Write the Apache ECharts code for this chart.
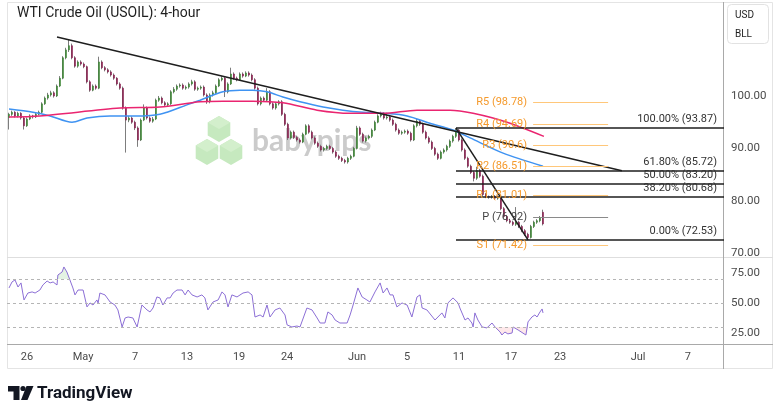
<!DOCTYPE html>
<html>
<head>
<meta charset="utf-8">
<title>WTI Crude Oil (USOIL): 4-hour</title>
<script src="https://cdn.jsdelivr.net/npm/echarts@6/dist/echarts.min.js"></script>
<style>
  html, body { margin: 0; padding: 0; background: #fff; }
  #chart { width: 780px; height: 417px; }
</style>
</head>
<body>
<div id="chart"></div>
<script>
// 4-hour candles, one row per bar: [open, close, low, high]
var candles = [
  [95.9,96.5,93.6,96.8],[96.5,96.9,96.2,97.2],[96.9,96.2,95.9,97.1],[96.2,96.7,95.9,97.0],[96.7,95.8,95.5,96.9],
  [95.8,94.3,93.6,96.0],[94.3,95.6,94.1,95.9],[95.6,96.2,95.4,96.5],[96.2,96.0,95.7,96.4],[96.0,96.5,95.8,96.8],
  [96.5,96.9,96.3,97.2],[96.9,98.5,96.7,98.8],[98.5,99.6,98.3,99.9],[99.6,100.2,99.3,100.6],[100.2,100.6,99.9,101.0],
  [100.6,100.0,99.7,100.9],[100.0,101.9,99.8,102.2],[101.9,103.4,101.7,103.8],[103.4,107.3,103.2,107.6],[107.3,108.8,107.0,109.2],
  [108.8,109.6,108.4,110.7],[109.6,107.3,107.0,110.0],[107.3,105.7,105.4,107.6],[105.7,106.5,105.4,106.8],[106.5,106.1,105.8,106.8],
  [106.1,105.6,105.3,106.4],[105.6,102.7,102.4,105.8],[102.7,101.1,100.8,103.0],[101.1,101.9,100.9,102.2],[101.9,101.5,101.2,102.2],
  [101.5,106.5,101.3,107.5],[106.5,105.4,105.1,106.8],[105.4,105.0,104.7,105.7],[105.0,104.6,104.3,105.3],[104.6,104.0,103.7,104.9],
  [104.0,103.4,103.1,104.3],[103.4,102.3,102.0,103.6],[102.3,101.5,101.2,102.6],[101.5,97.7,97.4,101.8],[97.7,95.4,89.2,98.0],
  [95.4,95.8,95.0,96.2],[95.8,95.0,94.7,96.1],[95.0,93.9,93.5,95.3],[93.9,91.6,90.3,94.2],[91.6,95.4,91.4,95.7],
  [95.4,97.7,95.2,98.4],[97.7,95.8,95.5,98.0],[95.8,95.2,94.9,96.1],[95.2,95.6,94.9,96.0],[95.6,99.2,95.4,99.5],
  [99.2,99.6,98.9,100.0],[99.6,98.7,98.4,99.9],[98.7,98.3,98.0,99.0],[98.3,98.5,98.0,98.8],[98.5,100.8,98.3,101.1],
  [100.8,101.3,100.5,101.7],[101.3,101.9,101.0,102.2],[101.9,102.1,101.6,102.4],[102.1,101.5,101.2,102.4],[101.5,101.7,101.2,102.0],
  [101.7,102.3,101.4,102.6],[102.3,102.7,102.0,103.1],[102.7,101.3,101.0,103.0],[101.3,101.5,101.0,101.8],[101.5,101.7,101.2,102.0],
  [101.7,100.2,99.9,102.0],[100.2,98.9,98.5,100.5],[98.9,100.2,98.6,100.5],[100.2,100.6,99.9,101.0],[100.6,101.9,100.4,102.2],
  [101.9,103.1,101.7,103.4],[103.1,103.4,102.8,103.8],[103.4,100.8,99.8,103.7],[100.8,102.3,100.5,102.6],[102.3,104.2,102.1,105.4],
  [104.2,103.4,103.1,104.5],[103.4,103.1,102.8,103.7],[103.1,104.2,102.9,104.5],[104.2,103.8,103.5,104.5],[103.8,104.4,103.6,104.7],
  [104.4,104.0,103.7,104.7],[104.0,103.1,102.8,104.3],[103.1,101.5,101.2,103.4],[101.5,98.5,98.2,101.8],[98.5,99.6,98.2,99.9],
  [99.6,99.2,98.9,99.9],[99.2,100.8,98.9,101.5],[100.8,98.5,98.2,101.1],[98.5,97.7,97.4,98.8],[97.7,98.5,97.4,98.8],
  [98.5,98.9,98.2,99.2],[98.9,96.5,96.2,99.2],[96.5,94.6,94.3,96.8],[94.6,92.0,91.6,94.9],[92.0,93.1,91.7,93.4],
  [93.1,92.1,91.8,93.4],[92.1,91.6,91.3,92.4],[91.6,91.2,90.9,91.9],[91.2,92.7,91.0,93.0],[92.7,94.3,92.5,94.6],
  [94.3,93.1,92.8,94.6],[93.1,92.0,91.7,93.4],[92.0,91.0,90.7,92.3],[91.0,90.4,90.1,91.3],[90.4,89.7,89.4,90.7],
  [89.7,90.0,89.4,90.3],[90.0,90.4,89.7,90.7],[90.4,90.0,89.7,90.7],[90.0,89.3,89.0,90.3],[89.3,88.5,88.2,89.6],
  [88.5,88.1,87.8,88.8],[88.1,87.7,87.4,88.4],[87.7,87.4,87.1,88.0],[87.4,88.1,87.1,88.4],[88.1,88.5,87.8,88.8],
  [88.5,90.0,88.3,90.3],[90.0,93.9,89.8,94.3],[93.9,92.7,92.4,94.2],[92.7,91.4,91.1,93.0],[91.4,92.0,91.1,92.3],
  [92.0,92.3,91.7,92.6],[92.3,93.5,92.0,93.8],[93.5,95.0,93.3,95.3],[95.0,96.2,94.8,96.5],[96.2,96.5,95.9,97.0],
  [96.5,95.8,95.5,96.9],[95.8,96.0,95.5,96.8],[96.0,95.4,95.1,96.3],[95.4,94.6,94.3,95.7],[94.6,93.5,93.2,94.9],
  [93.5,92.9,92.6,93.8],[92.9,93.1,92.6,93.4],[93.1,93.3,92.8,93.6],[93.3,92.9,92.6,93.6],[92.9,91.6,91.3,93.2],
  [91.6,94.3,91.4,94.6],[94.3,95.2,94.0,95.6],[95.2,94.6,94.3,95.5],[94.6,93.1,92.8,94.9],[93.1,92.0,91.7,93.4],
  [92.0,91.2,90.9,92.3],[91.2,90.0,89.7,91.5],[90.0,88.9,88.6,90.3],[88.9,88.1,87.8,89.2],[88.1,89.3,87.9,89.6],
  [89.3,89.7,89.0,90.0],[89.7,90.4,89.4,90.7],[90.4,91.4,90.1,91.7],[91.4,92.3,91.1,92.6],[92.3,93.5,92.0,93.87],
  [93.5,91.6,91.3,93.7],[91.6,89.7,89.4,91.9],[89.7,88.1,87.8,90.0],[88.1,86.6,86.3,88.4],[86.6,85.4,85.1,86.9],
  [85.4,84.3,83.7,85.7],[84.3,85.8,84.0,86.5],[85.8,84.7,84.4,86.1],[84.7,81.2,80.9,85.0],[81.2,80.8,80.5,81.5],
  [80.8,80.7,80.4,81.0],[80.7,80.8,80.4,81.1],[80.8,80.5,80.2,81.1],[80.5,80.7,80.2,81.0],[80.7,78.5,78.2,81.0],
  [78.5,77.0,76.7,78.8],[77.0,76.2,75.9,77.3],[76.2,75.9,75.6,76.5],[75.9,75.5,75.2,76.2],[75.5,75.9,75.2,78.8],
  [75.9,75.1,74.8,76.2],[75.1,74.3,74.0,75.4],[74.3,73.6,73.3,74.6],[73.6,73.0,72.53,73.9],[73.0,75.1,72.8,75.4],
  [75.1,75.9,74.8,76.2],[75.9,76.2,75.6,76.5],[76.2,76.8,75.9,77.1],[77.8,75.59,75.3,78.3]
];

// moving averages: [bar, price]
var maBlue = [[0,97.5],[8,96.9],[13.7,96.2],[21,95.0],[26,95.8],[33.7,96.2],[44.7,96.2],[50.3,96.5],[52.7,96.9],
  [59.3,98.3],[63.7,99.2],[71.3,100.8],[77,101.1],[81.3,101.1],[86,100.8],[91.3,99.8],[97,98.9],[104.7,97.9],
  [111.3,97.3],[118,96.9],[124.7,96.7],[132.7,96.2],[140.3,94.8],[148,93.5],[153.7,92.0],[164.7,89.1],[178,86.6]];
var maPink = [[0,96.0],[10.3,96.2],[37,97.7],[50.3,97.9],[63.7,98.9],[71.3,99.0],[81.3,99.0],[91.3,98.7],
  [102.7,97.3],[113.7,96.7],[124.7,96.7],[136,97.3],[147,97.3],[154.7,96.7],[166,95.0],[178.3,92.3]];

// RSI(14): [bar, value]
var rsi = [[0,62.5],[1,67.5],[2,69.2],[3,63.3],[4,66.7],[5,52.5],[6.3,58.3],[7.7,59.2],[8.7,58.3],[10.3,60.8],
  [11.3,65.0],[12.7,68.3],[13.7,66.7],[14.7,67.5],[16,65.0],[16.3,73.3],[17.7,75.8],[18.3,80.0],[19.3,75.8],
  [20.3,69.2],[21.3,62.5],[22,56.7],[23,60.8],[24.7,60.8],[26,46.7],[27,50.0],[28,48.3],[29.3,52.5],[29.7,50.0],
  [30.3,58.3],[32,56.7],[33.7,50.8],[35.3,48.3],[36.3,44.2],[37.7,30.0],[38.7,37.5],[39.7,38.3],[41.3,37.5],
  [42.7,30.0],[44.3,48.3],[46,44.2],[47,42.5],[48,45.8],[49.3,55.0],[50.3,54.2],[51.3,48.3],[52.7,54.2],[53.7,54.2],
  [54.7,58.3],[56,60.8],[57.7,60.8],[58.7,56.7],[59.7,60.8],[61,56.7],[62.7,55.0],[64.3,56.7],[65.3,54.2],
  [66.3,44.2],[68,50.8],[69.7,52.5],[71,59.2],[72,56.7],[73,46.7],[74.3,56.7],[76,55.0],[78,58.3],[79.7,59.2],
  [81,56.7],[82,38.3],[83.7,40.0],[84.7,38.3],[86,48.3],[87,38.3],[88.7,44.2],[90.3,45.8],[92,40.0],[92.7,31.7],
  [94.3,30.0],[96,30.8],[97,30.0],[99.3,45.8],[101,44.2],[102.7,37.5],[103.7,33.3],[105.3,33.3],[106.3,42.5],
  [107.7,40.0],[108.7,35.8],[110.3,33.3],[112.7,33.3],[113.7,40.0],[114.7,48.3],[116.3,62.5],[117.7,55.0],
  [119.3,52.5],[120.3,50.8],[122,59.2],[123.7,66.7],[124.7,58.3],[126,62.5],[127,56.7],[128,56.7],[129.3,46.7],
  [131,50.0],[132.7,48.3],[134.3,38.3],[136,55.0],[137,56.7],[137.7,45.8],[139.3,44.2],[142,35.8],[144.3,41.7],
  [145.3,37.5],[146.3,50.0],[148,54.2],[149.7,50.0],[150.3,45.8],[152,35.8],[153,37.5],[154.3,33.3],[154.7,30.0],
  [155.3,41.7],[156.3,35.8],[157.7,30.0],[159.3,29.2],[161,33.3],[162,30.0],[163.7,25.8],[164.3,23.3],[165.3,25.8],
  [166.3,24.2],[167.7,25.0],[168,30.0],[169.7,27.5],[172.3,23.3],[173,34.2],[174.3,38.3],[175.3,40.0],[176,38.3],
  [177,42.5],[177.7,45.0],[178,41.7]];

// drawings
var trendLong = [[16,111.26],[204.3,85.72]];
var trendSteep = [[149,93.87],[173,72.53]];
var fibNames = ['100.00%','61.80%','50.00%','38.20%','0.00%'];
var fibValues = [93.87,85.72,83.20,80.68,72.53];
var fibStart = 149;
var pivotNames = ['R5','R4','R3','R2','R1','P','S1'];
var pivotValues = [98.78,94.69,90.6,86.51,81.01,76.92,71.42];
var pivotSpan = [174.7,199.7];

// axes
var priceTicks = [70,80,90,100];
var rsiTicks = [25,50,75];
var rsiLevels = [70,50,30];
var dateTickBars = [6,24.7,42,59.3,76.7,92.7,116,132.7,150,167.3,183.7,209.7,226.3];
var dateTickLabels = ['26','May','7','13','19','24','Jun','5','11','17','23','Jul','7'];

var xMin = -0.667, xMax = 238.333;
var font = 'Roboto, "Liberation Sans", sans-serif';
var lastClose = candles[candles.length - 1][1];

var wickData = candles.map(function (c, i) { return [i, c[0], c[1], c[2], c[3]]; });
var bodyData = candles.map(function (c, i) {
  return [i, c[0], c[1], Math.min(c[0], c[1]), Math.max(c[0], c[1])];
});

var fibLines = fibValues.map(function (v, k) {
  return [
    { coord: [fibStart, v], label: { formatter: fibNames[k] + ' (' + v.toFixed(2) + ')' } },
    { coord: [xMax, v] }
  ];
});
var pivotLines = pivotValues.map(function (v, k) {
  var isP = pivotNames[k] === 'P';
  return [
    {
      coord: [pivotSpan[0], v],
      lineStyle: { color: isP ? '#8a8a8a' : '#ffc77a', width: 1, type: 'solid' },
      label: {
        show: true, position: 'start', distance: 6,
        color: isP ? '#444' : '#f59a2c', fontSize: 11, fontFamily: font,
        formatter: pivotNames[k] + ' (' + v + ')'
      }
    },
    { coord: [pivotSpan[1], v] }
  ];
});

var myChart = echarts.init(document.getElementById('chart'));
myChart.setOption({
  animation: false,
  backgroundColor: '#fff',
  grid: [
    { left: 7, right: 56, top: 2, height: 255 },
    { left: 7, right: 56, top: 257, height: 87 }
  ],
  xAxis: [
    { type: 'value', gridIndex: 0, min: xMin, max: xMax,
      axisLine: { show: false }, axisTick: { show: false }, axisLabel: { show: false }, splitLine: { show: false } },
    { type: 'value', gridIndex: 1, min: xMin, max: xMax,
      axisLine: { show: false }, axisTick: { show: false }, splitLine: { show: false },
      axisLabel: {
        customValues: dateTickBars, margin: 8, color: '#4a4a4a', fontSize: 11, fontFamily: font,
        formatter: function (v) {
          for (var k = 0; k < dateTickBars.length; k++) {
            if (Math.abs(dateTickBars[k] - v) < 0.01) return dateTickLabels[k];
          }
          return '';
        }
      }
    }
  ],
  yAxis: [
    { type: 'value', gridIndex: 0, position: 'right', min: 69.27, max: 117.94,
      axisLine: { show: false }, axisTick: { show: false }, splitLine: { show: false },
      axisLabel: { customValues: priceTicks, margin: 7, color: '#4a4a4a', fontSize: 11.5, fontFamily: font,
        formatter: function (v) { return v.toFixed(2); } } },
    { type: 'value', gridIndex: 1, position: 'right', min: 15.8, max: 88.3,
      axisLine: { show: false }, axisTick: { show: false }, splitLine: { show: false },
      axisLabel: { customValues: rsiTicks, margin: 7, color: '#4a4a4a', fontSize: 11.5, fontFamily: font,
        formatter: function (v) { return v.toFixed(2); } } }
  ],
  graphic: [
    // frame and separators
    { type: 'rect', z: 1, shape: { x: 7.5, y: 2.5, width: 765, height: 366 },
      style: { fill: 'none', stroke: '#e4e4e4', lineWidth: 1 } },
    { type: 'line', z: 1, shape: { x1: 7, y1: 257.5, x2: 773, y2: 257.5 }, style: { stroke: '#dedede', lineWidth: 1 } },
    { type: 'line', z: 1, shape: { x1: 7, y1: 344.5, x2: 773, y2: 344.5 }, style: { stroke: '#a9a9a9', lineWidth: 1 } },
    { type: 'line', z: 1, shape: { x1: 723.5, y1: 2, x2: 723.5, y2: 369 }, style: { stroke: '#a9a9a9', lineWidth: 1 } },
    // title
    { type: 'text', z: 50, x: 17, y: 13,
      style: { text: 'WTI Crude Oil (USOIL): 4-hour', fill: '#1e1e1e', font: '14px ' + font, verticalAlign: 'middle' } },
    // currency / unit box
    { type: 'rect', z: 50, shape: { x: 727.5, y: 4.5, width: 41, height: 39, r: 4 },
      style: { fill: '#fff', stroke: '#e2e2e2', lineWidth: 1 } },
    { type: 'text', z: 51, x: 735, y: 15, style: { text: 'USD', fill: '#1e1e1e', font: '10px ' + font, verticalAlign: 'middle' } },
    { type: 'text', z: 51, x: 735, y: 34, style: { text: 'BLL', fill: '#1e1e1e', font: '10px ' + font, verticalAlign: 'middle' } },
    // babypips watermark
    { type: 'polygon', z: 0, shape: { points: [[219,116],[230.3,122.5],[230.3,135.5],[219,142],[207.7,135.5],[207.7,122.5]] },
      style: { fill: '#c6e9bf' } },
    { type: 'polygon', z: 0, shape: { points: [[207,139],[218.3,145.5],[218.3,158.5],[207,165],[195.7,158.5],[195.7,145.5]] },
      style: { fill: '#c6e9bf' } },
    { type: 'polygon', z: 0, shape: { points: [[231,139],[242.3,145.5],[242.3,158.5],[231,165],[219.7,158.5],[219.7,145.5]] },
      style: { fill: '#c6e9bf' } },
    { type: 'polygon', z: 0, shape: { points: [[219,116],[230.3,122.5],[219,129],[207.7,122.5]] }, style: { fill: '#d3efcc' } },
    { type: 'polygon', z: 0, shape: { points: [[207,139],[218.3,145.5],[207,152],[195.7,145.5]] }, style: { fill: '#d3efcc' } },
    { type: 'polygon', z: 0, shape: { points: [[231,139],[242.3,145.5],[231,152],[219.7,145.5]] }, style: { fill: '#d3efcc' } },
    { type: 'text', z: 0, x: 252, y: 141,
      style: { text: 'babypips', fill: 'rgba(185,185,185,0.75)', font: 'bold 30px Lato, ' + font, verticalAlign: 'middle' } },
    // TradingView logo
    { type: 'polygon', z: 50, shape: { points: [[8,386],[19.5,386],[19.5,400],[13.5,400],[13.5,391.5],[8,391.5]] },
      style: { fill: '#131722' } },
    { type: 'circle', z: 50, shape: { cx: 23, cy: 388.5, r: 2.6 }, style: { fill: '#131722' } },
    { type: 'polygon', z: 50, shape: { points: [[26.5,386],[33.5,386],[27.5,400],[21,400]] }, style: { fill: '#131722' } },
    { type: 'text', z: 50, x: 37, y: 394,
      style: { text: 'TradingView', fill: '#131722', font: 'bold 17px ' + font, verticalAlign: 'middle' } }
  ],
  series: [
    {
      name: 'wicks', type: 'candlestick', xAxisIndex: 0, yAxisIndex: 0,
      data: wickData, encode: { x: 0, y: [1, 2, 3, 4] }, barWidth: 1,
      itemStyle: { color: '#7d7d7d', color0: '#7d7d7d', borderColor: '#7d7d7d', borderColor0: '#7d7d7d', borderWidth: 1 }
    },
    {
      name: 'bodies', type: 'candlestick', xAxisIndex: 0, yAxisIndex: 0,
      data: bodyData, encode: { x: 0, y: [1, 2, 3, 4] }, barWidth: 2.4,
      itemStyle: { color: '#3f8738', color0: '#8a2250', borderColor: '#3f8738', borderColor0: '#8a2250', borderWidth: 0.6 },
      markLine: {
        silent: true, symbol: ['none', 'none'],
        lineStyle: { color: '#1e1e1e', width: 1.5, type: 'solid' },
        label: { show: true, position: 'insideEndTop', distance: [7, 3], color: '#333', fontSize: 11, fontFamily: font },
        data: fibLines.concat(pivotLines).concat([
          [
            { coord: [xMin, lastClose], lineStyle: { opacity: 0 },
              label: { show: true, position: 'end', distance: 3, formatter: lastClose.toFixed(2),
                backgroundColor: '#f2276f', color: '#fff', fontSize: 12, padding: [2, 4, 1, 4], fontFamily: font } },
            { coord: [xMax, lastClose] }
          ]
        ])
      }
    },
    {
      name: 'MA blue', type: 'line', xAxisIndex: 0, yAxisIndex: 0, data: maBlue, smooth: 0.3,
      showSymbol: false, lineStyle: { color: '#3f93f2', width: 1.5 }
    },
    {
      name: 'MA pink', type: 'line', xAxisIndex: 0, yAxisIndex: 0, data: maPink, smooth: 0.3,
      showSymbol: false, lineStyle: { color: '#ea2570', width: 1.5 }
    },
    {
      name: 'trend long', type: 'line', xAxisIndex: 0, yAxisIndex: 0, data: trendLong,
      showSymbol: false, lineStyle: { color: '#1e1e1e', width: 1.5 }
    },
    {
      name: 'trend steep', type: 'line', xAxisIndex: 0, yAxisIndex: 0, data: trendSteep,
      showSymbol: false, lineStyle: { color: '#1e1e1e', width: 1.5 }
    },
    {
      name: 'RSI over', type: 'line', xAxisIndex: 1, yAxisIndex: 1,
      data: rsi.map(function (p) { return [p[0], Math.max(p[1], rsiLevels[0])]; }),
      showSymbol: false, lineStyle: { width: 0 }, areaStyle: { origin: rsiLevels[0], color: 'rgba(76,175,80,0.22)' }
    },
    {
      name: 'RSI under', type: 'line', xAxisIndex: 1, yAxisIndex: 1,
      data: rsi.map(function (p) { return [p[0], Math.min(p[1], rsiLevels[2])]; }),
      showSymbol: false, lineStyle: { width: 0 }, areaStyle: { origin: rsiLevels[2], color: 'rgba(242,54,69,0.16)' }
    },
    {
      name: 'RSI', type: 'line', xAxisIndex: 1, yAxisIndex: 1, data: rsi,
      showSymbol: false, lineStyle: { color: '#8c6fd6', width: 1 },
      markLine: {
        silent: true, symbol: ['none', 'none'], label: { show: false },
        lineStyle: { color: '#b5b5b5', width: 1, type: [3, 3] },
        data: rsiLevels.map(function (v) { return { yAxis: v }; })
      }
    }
  ]
});
</script>
</body>
</html>
